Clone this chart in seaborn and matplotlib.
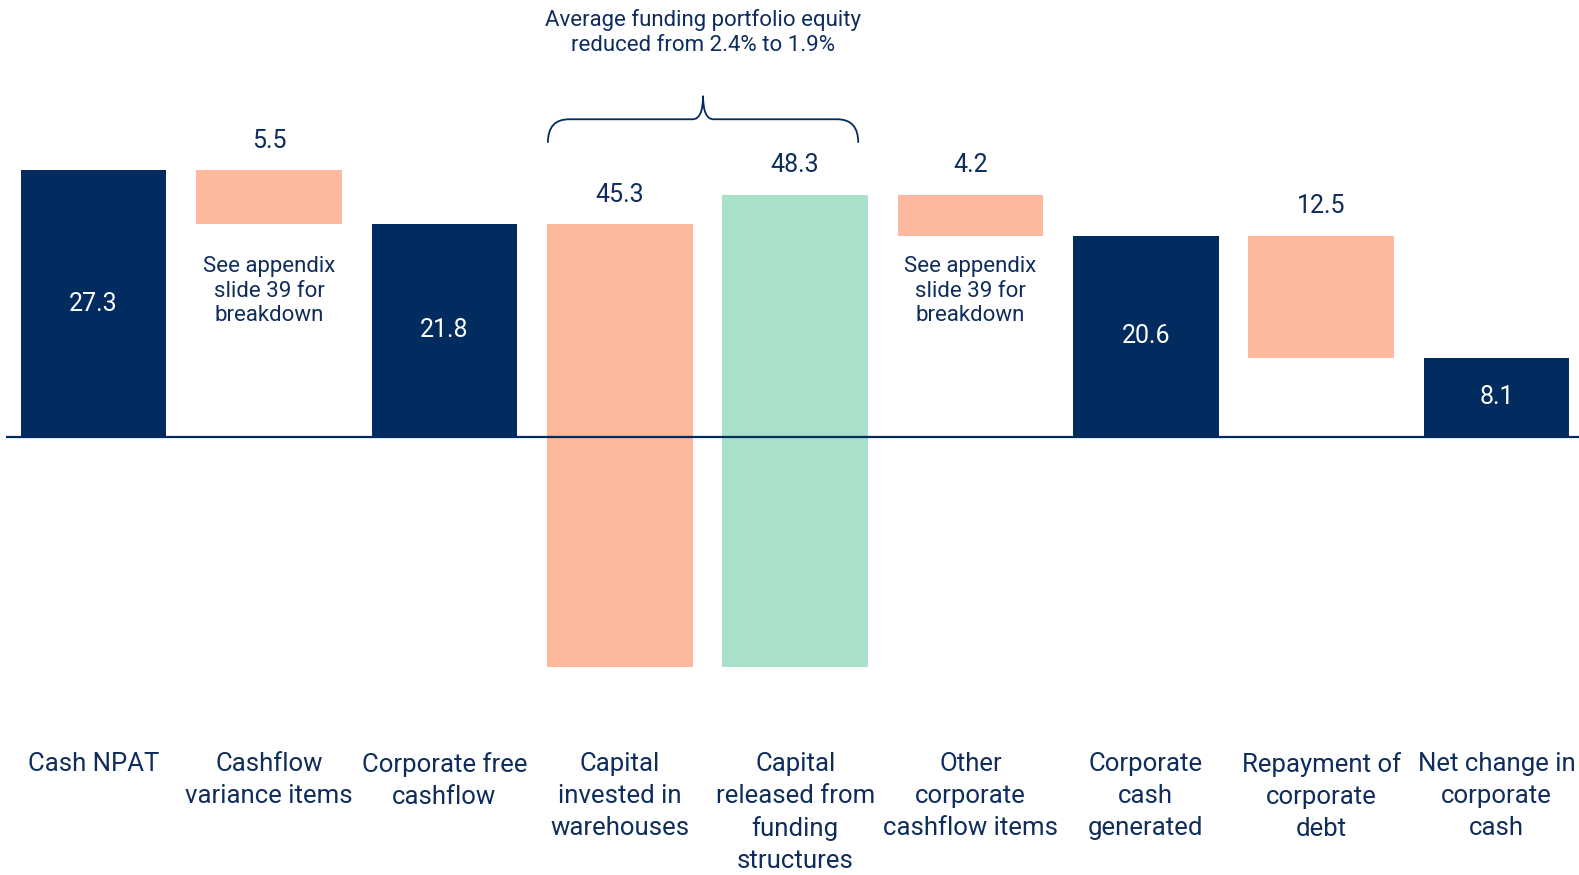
import numpy as np
import pandas as pd
import matplotlib.pyplot as plt
import seaborn as sns
from matplotlib.path import Path
from matplotlib.patches import PathPatch

# data
cats = ["Cash NPAT", "Cashflow\nvariance items", "Corporate free\ncashflow",
        "Capital\ninvested in\nwarehouses", "Capital\nreleased from\nfunding\nstructures",
        "Other\ncorporate\ncashflow items", "Corporate\ncash\ngenerated",
        "Repayment of\ncorporate\ndebt", "Net change in\ncorporate\ncash"]
values = [27.3, -5.5, 21.8, -45.3, 48.3, -4.2, 20.6, -12.5, 8.1]
kinds = ["total", "delta", "total", "delta", "delta", "delta", "total", "delta", "total"]
note = "See appendix\nslide 39 for\nbreakdown"
note_idx = [1, 5]
brace_text = "Average funding portfolio equity\nreduced from 2.4% to 1.9%"
brace_idx = [3, 4]

navy = "#022b60"
salmon = "#fdb89e"
mint = "#a8e1c8"
txt = "#0f2d5c"

# waterfall bottoms / heights
bottoms, heights, colors = [], [], []
run = 0
for v, k in zip(values, kinds):
    if k == "total":
        bottoms.append(0)
        heights.append(v)
        colors.append(navy)
        run = v
    else:
        bottoms.append(run)
        heights.append(v)
        colors.append(mint if v > 0 else salmon)
        run = run + v

df = pd.DataFrame({"cat": cats, "h": heights})

sns.set_style("white")
plt.rcParams["font.family"] = ["Roboto", "DejaVu Sans"]

fig = plt.figure(figsize=(15.79, 8.75), dpi=100)
ax = fig.add_axes([6 / 1579, 0, 1 - 6 / 1579, 1])
sns.barplot(data=df, x="cat", y="h", bottom=bottoms, color=navy, width=0.83,
            saturation=1, ax=ax, zorder=2)
for p, c in zip(ax.patches, colors):
    p.set_facecolor(c)
    p.set_edgecolor("none")

ax.axhline(0, color=navy, lw=1.6, zorder=3)
ax.set_xlim(-0.5, 8.47)
ax.set_ylim(-44.8, 44.7)
ax.axis("off")

for i, (b, h, k) in enumerate(zip(bottoms, heights, kinds)):
    if k == "total":
        ax.text(i, b + h / 2, f"{abs(h):.1f}", color="white", ha="center",
                va="center", fontsize=18)
    else:
        top = max(b, b + h)
        ax.annotate(f"{abs(h):.1f}", (i, top), xytext=(0, 21), textcoords="offset points",
                    ha="center", va="center", fontsize=18, color=txt)
    ax.text(i, -32.2, cats[i], ha="center", va="top", fontsize=18.5, color=txt,
            linespacing=1.42)

for i in note_idx:
    ax.text(i, 14.9, note, ha="center", va="center", fontsize=16, color=txt,
            linespacing=1.22)

# brace over the two capital bars
x0 = brace_idx[0] - 0.41
x1 = brace_idx[1] + 0.36
xm = (x0 + x1) / 2
yb, yh, yt = 30.1, 32.5, 34.9
r = 0.04
verts = [(x0, yb), (x0, yh), (x0 + r * 3, yh), (xm - r * 1.5, yh), (xm, yh), (xm, yt),
         (xm, yt), (xm, yh), (xm + r * 1.5, yh), (x1 - r * 3, yh), (x1, yh), (x1, yb)]
codes = [Path.MOVETO, Path.CURVE3, Path.CURVE3, Path.LINETO, Path.CURVE3, Path.CURVE3,
         Path.MOVETO, Path.CURVE3, Path.CURVE3, Path.LINETO, Path.CURVE3, Path.CURVE3]
ax.add_patch(PathPatch(Path(verts, codes), fill=False, edgecolor=navy, lw=1.3))
ax.text(xm, 41.4, brace_text, ha="center", va="center", fontsize=16, color=txt,
        linespacing=1.25)

fig.savefig("out.png", dpi=100)
